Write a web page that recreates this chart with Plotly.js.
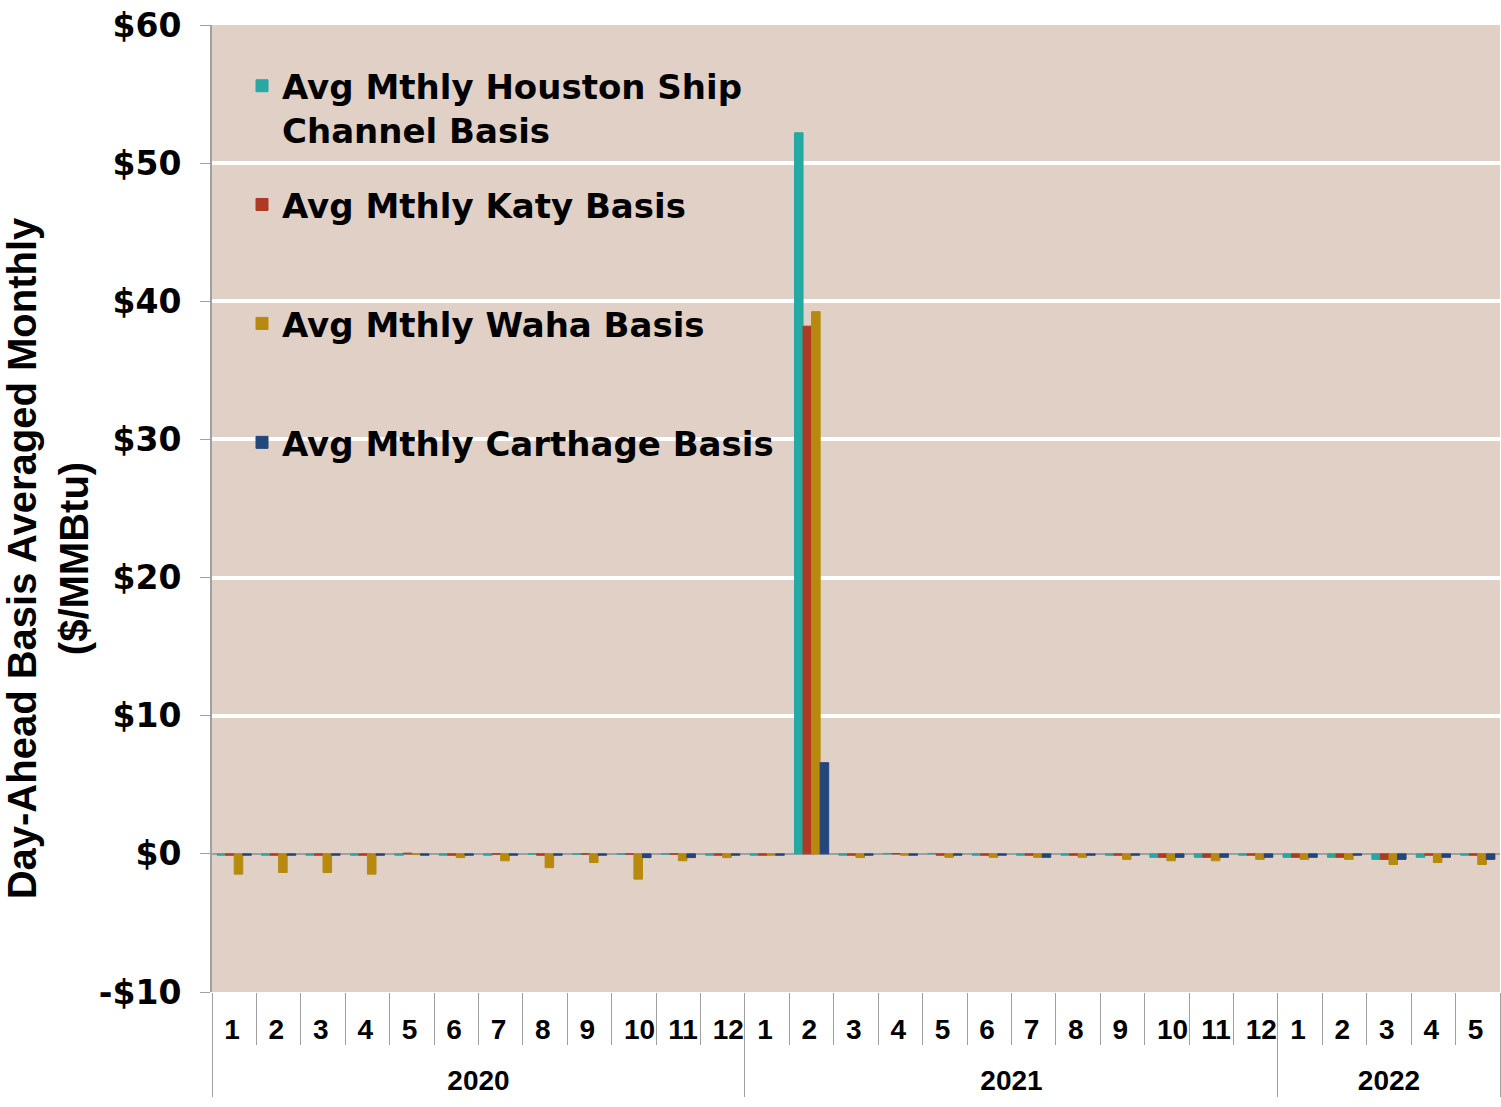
<!DOCTYPE html>
<html>
<head>
<meta charset="utf-8">
<script src="https://cdn.plot.ly/plotly-3.0.1.min.js"></script>
<style>html,body{margin:0;padding:0;background:#fff;}#chart{width:1501px;height:1107px;}</style>
</head>
<body>
<div id="chart"></div>
<script>
// Category labels (year, month)
const years = [
  '2020','2020','2020','2020','2020','2020','2020','2020','2020','2020','2020','2020',
  '2021','2021','2021','2021','2021','2021','2021','2021','2021','2021','2021','2021',
  '2022','2022','2022','2022','2022'
];
const months = [
  '1','2','3','4','5','6','7','8','9','10','11','12',
  '1','2','3','4','5','6','7','8','9','10','11','12',
  '1','2','3','4','5'
];
// Series values ($/MMBtu)
const houston = [
  -0.10,-0.10,-0.10,-0.10,-0.10,-0.10,-0.10,-0.02,-0.02,-0.02,-0.02,-0.10,
  -0.10,52.2,-0.10,0.03,0.03,-0.10,-0.10,-0.10,-0.10,-0.25,-0.25,-0.10,
  -0.25,-0.25,-0.40,-0.25,-0.10
];
const katy = [
  -0.10,-0.10,-0.10,-0.10,0.05,-0.10,-0.02,-0.10,-0.02,-0.02,-0.02,-0.10,
  -0.10,38.2,-0.10,0.02,-0.10,-0.10,-0.10,-0.10,-0.10,-0.25,-0.25,-0.10,
  -0.25,-0.25,-0.40,-0.10,-0.10
];
const waha = [
  -1.47,-1.35,-1.35,-1.47,-0.05,-0.27,-0.50,-1.00,-0.63,-1.83,-0.50,-0.27,
  -0.10,39.25,-0.27,-0.10,-0.25,-0.25,-0.25,-0.25,-0.40,-0.50,-0.50,-0.40,
  -0.40,-0.40,-0.77,-0.63,-0.77
];
const carthage = [
  -0.10,-0.10,-0.10,-0.10,-0.10,-0.10,-0.10,-0.10,-0.10,-0.27,-0.27,-0.10,
  -0.10,6.6,-0.10,-0.10,-0.10,-0.10,-0.25,-0.10,-0.10,-0.25,-0.25,-0.25,
  -0.25,-0.10,-0.40,-0.25,-0.40
];
const seriesNames = [
  'Avg Mthly Houston Ship<br>Channel Basis',
  'Avg Mthly Katy Basis',
  'Avg Mthly Waha Basis',
  'Avg Mthly Carthage Basis'
];
const yTickVals = [-10, 0, 10, 20, 30, 40, 50, 60];
const yTickText = ['-$10', '$0', '$10', '$20', '$30', '$40', '$50', '$60'];

const colors = ['#27A8A2', '#AE3A24', '#B8890F', '#22477D'];
const seriesValues = [houston, katy, waha, carthage];
const legendIds = ['legend', 'legend2', 'legend3', 'legend4'];

const traces = seriesValues.map((vals, i) => ({
  type: 'bar',
  name: seriesNames[i],
  x: [years, months],
  y: vals,
  marker: {color: colors[i], line: {color: colors[i], width: 1}},
  legend: legendIds[i],
  hovertemplate: '%{x}: %{y:$.2f}<extra></extra>'
}));

const legendFont = {family: 'DejaVu Sans, Liberation Sans, sans-serif', size: 34, color: '#000', weight: 'bold'};
function mkLegend(y, yanchor, valign) {
  return {
    x: 0.0233, xanchor: 'left', y: y, yanchor: yanchor,
    bgcolor: 'rgba(0,0,0,0)', borderwidth: 0,
    font: legendFont, valign: valign || 'middle'
  };
}

const sans = 'Liberation Sans, Arial, sans-serif';
const pad = '\u00a0'.repeat(9) + '\u200b';

const layout = {
  width: 1501, height: 1107,
  margin: {l: 212, r: 1, t: 25, b: 115, pad: 0},
  paper_bgcolor: '#ffffff',
  plot_bgcolor: '#E0D0C6',
  barmode: 'group',
  bargap: 0.23,
  bargroupgap: 0,
  showlegend: true,
  legend: mkLegend(0.914, 'middle', 'top'),
  legend2: mkLegend(0.814, 'middle'),
  legend3: mkLegend(0.691, 'middle'),
  legend4: mkLegend(0.568, 'middle'),
  xaxis: {
    type: 'multicategory',
    showgrid: false,
    zeroline: false,
    showline: false,
    ticks: 'outside',
    ticklen: 52,
    tickwidth: 1,
    tickcolor: '#a0a0a0',
    tickangle: 0.01,
    ticklabelshift: -10,
    ticklabelstandoff: 18,
    showdividers: true,
    dividercolor: '#a0a0a0',
    dividerwidth: 1,
    tickfont: {family: sans, size: 28, color: '#000', weight: 'bold'}
  },
  yaxis: {
    range: [-10, 60],
    tickvals: yTickVals,
    ticktext: yTickText,
    showgrid: true,
    gridcolor: '#ffffff',
    gridwidth: 4,
    zeroline: true,
    zerolinecolor: '#a0a0a0',
    zerolinewidth: 2,
    showline: true,
    linecolor: '#a0a0a0',
    linewidth: 2,
    ticks: 'outside',
    ticklen: 10,
    tickcolor: '#a0a0a0',
    ticklabelstandoff: 12,
    tickfont: {family: 'DejaVu Sans, Liberation Sans, sans-serif', size: 33, color: '#000', weight: 'bold'},
    title: {
      text: 'Day-Ahead Basis Averaged Monthly' + pad + '<br>($/MMBtu)' + pad,
      font: {family: sans, size: 40, color: '#000', weight: 'bold'},
      standoff: 14
    }
  }
};

Plotly.newPlot('chart', traces, layout, {displayModeBar: false, staticPlot: true});
</script>
</body>
</html>
